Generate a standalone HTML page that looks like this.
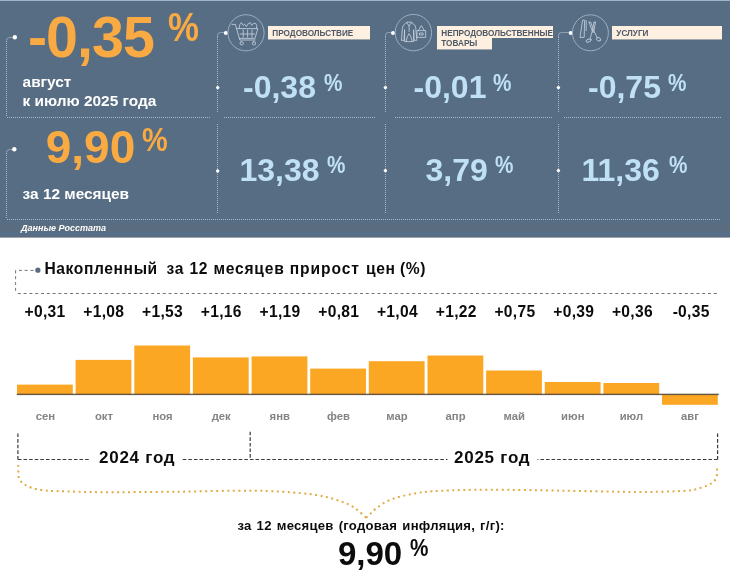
<!DOCTYPE html>
<html lang="ru">
<head>
<meta charset="utf-8">
<title>Инфляция</title>
<style>
*{margin:0;padding:0;box-sizing:border-box}
html,body{width:730px;height:574px;overflow:hidden;background:#fff}
body{font-family:"Liberation Sans",sans-serif;font-weight:bold;position:relative}
#wrap{position:absolute;left:0;top:0;width:730px;height:574px;will-change:transform;transform:translateZ(0)}
.abs{position:absolute;white-space:nowrap;line-height:1}
#top{position:absolute;left:0;top:0;width:730px;height:237px;background:#576d84}
#topedge{position:absolute;left:0;top:237px;width:730px;height:1px;background:#9da4ab}
#topstrip{position:absolute;left:0;top:0;width:730px;height:1px;background:#a3b3c8}
.or{color:#f9aa42}
.wh{color:#fff}
.lb{color:#bfe0f5}
.sx{transform-origin:0 0}
.big1{font-size:57.4px;left:28px;top:9.4px;letter-spacing:-1px}
.pc1{font-size:41px;left:167.6px;top:7px;transform:scaleX(.85)}
.big2{font-size:46px;left:45.7px;top:123.6px}
.pc2{font-size:34px;left:142px;top:122.3px;transform:scaleX(.85)}
.sub{font-size:15.4px}
.num{font-size:32px}
.pc{font-size:23px;transform:scaleX(.9)}
.tag{position:absolute;background:#fdf0e0;color:#4f5866;font-size:8.2px;line-height:9.2px;padding:2.6px 0 1.2px 4.3px;white-space:nowrap;box-shadow:0 1px 0 rgba(253,240,224,.45)}
.src{font-size:9px;font-style:italic;left:21px;top:224px}
.tw{font-size:15.6px;color:#0c0c0c;top:260.6px;letter-spacing:0.62px}
.val{font-size:15.6px;color:#0c0c0c;width:80px;text-align:center;top:303.9px;letter-spacing:0.3px;text-indent:0.3px}
.mon{font-size:11.3px;color:#848484;width:80px;text-align:center;top:411px}
.yr{font-size:17px;color:#0c0c0c;top:449.4px;letter-spacing:0.75px}
.cap{font-size:13.1px;color:#0c0c0c;left:237.4px;top:519.4px;letter-spacing:0.25px;word-spacing:1.2px}
.fin{font-size:33px;color:#0c0c0c;left:338px;top:537.1px}
.finpc{font-size:23px;color:#0c0c0c;left:409.6px;top:536.6px;transform:scaleX(.9)}
</style>
</head>
<body>
<div id="wrap">
<div id="top"></div>
<div id="topedge"></div>
<div style="position:absolute;left:0;top:224px;width:730px;height:8px;background:#5a6c80"></div>
<div style="position:absolute;left:0;top:232px;width:730px;height:4px;background:#566e88"></div>
<div style="position:absolute;left:0;top:236px;width:730px;height:1px;background:#5a6a7b"></div>
<div id="topstrip"></div>

<svg class="abs" style="left:0;top:0" width="730" height="574" viewBox="0 0 730 574">
  <!-- top panel dotted guides -->
  <g fill="none" stroke="#a9b8ca" stroke-width="1" stroke-dasharray="1 1">
    <path d="M6.5 41V117M7 117.5H211"/>
    <path d="M6.5 153V219M7 219.5H721"/>
    <path d="M217.5 37V112M217.5 124V213"/>
    <path d="M224 117.5H376"/>
    <path d="M385.5 37V112M385.5 124V213"/>
    <path d="M395 117.5H552"/>
    <path d="M558.5 37V112M558.5 124V213"/>
    <path d="M564 117.5H721"/>
  </g>
  <g fill="none" stroke="#b7c4d3" stroke-opacity=".6" stroke-width="1">
    <path d="M12.5 37.5H9.5Q6.5 37.5 6.5 40.5"/>
    <path d="M12.5 149.5H9.5Q6.5 149.5 6.5 152.5"/>
    <path d="M224 32.5H220.5Q217.5 32.5 217.5 35.5V37"/>
    <path d="M391 32.5H388.5Q385.5 32.5 385.5 35.5V37"/>
    <path d="M568.5 32.5H561.5Q558.5 32.5 558.5 35.5V37"/>
  </g>
  <g fill="#fff">
    <circle cx="14.8" cy="37.2" r="2.2"/>
    <circle cx="14.3" cy="149.2" r="2.2"/>
    <circle cx="225.8" cy="32.9" r="2"/>
    <circle cx="217.7" cy="87.6" r="1.7"/>
    <circle cx="217.7" cy="171" r="1.7"/>
    <circle cx="393" cy="33" r="2"/>
    <circle cx="385.4" cy="87.6" r="1.7"/>
    <circle cx="385.4" cy="170.6" r="1.7"/>
    <circle cx="570.6" cy="33" r="2"/>
    <circle cx="558.4" cy="87.6" r="1.7"/>
    <circle cx="558.4" cy="170.6" r="1.7"/>
  </g>
  <!-- icon circles -->
  <g fill="none" stroke="#a3b3c6" stroke-width=".9">
    <circle cx="246" cy="32.8" r="18.1"/>
    <circle cx="413.4" cy="32.6" r="18.2"/>
    <circle cx="590.4" cy="32.8" r="18"/>
  </g>
  <!-- cart icon -->
  <g fill="none" stroke="#c3d0de" stroke-width=".85" stroke-linejoin="round" stroke-linecap="round">
    <path d="M232 24.4H235.4L239.8 40H255.2"/>
    <path d="M236.7 28.6H257.8L255 38.4H239.4"/>
    <path d="M243.2 30V37.2M247.6 30V37.2M252 30V37.2M240.2 34H254.6"/>
    <rect x="240.2" y="41.8" width="3" height="3" rx=".9"/>
    <rect x="252.5" y="41.8" width="3" height="3" rx=".9"/>
    <path d="M239.2 28.4L239.8 24.6L241.4 22.6L243.2 25.4L244.6 24.2L246.4 26.6L248.4 23.4L250.4 22.8L251.6 25.2Q253.6 22.6 255.6 23.4Q257.4 24.6 256.6 28.4"/>
  </g>
  <!-- clothes icon -->
  <g fill="none" stroke="#c3d0de" stroke-width=".85" stroke-linejoin="round" stroke-linecap="round">
    <path d="M406.6 22.4L404.4 24.2Q402.6 25.6 402.4 28.4L401.4 40.4H404L404.6 29.6V41.6H413.6V29.6L414.2 40.4H416.8L415.8 28.4Q415.6 25.6 413.8 24.2L411.6 22.4Z"/>
    <path d="M406.6 22.4L409.1 26L411.6 22.4M409.1 26V31.4M406 41.6Q407 36 409.1 33.6Q411.2 36 412.2 41.6"/>
    <rect x="417.4" y="30.6" width="8.3" height="6.8"/>
    <path d="M418.5 30.6L421.3 25.6L424.4 30.6"/>
    <rect x="419.9" y="33" width="3.2" height="2"/>
  </g>
  <!-- scissors / comb icon -->
  <g fill="none" stroke="#c3d0de" stroke-width=".85" stroke-linejoin="round" stroke-linecap="round">
    <path d="M583 20.2H584.6L584.2 37.4H580.4Z"/>
    <path d="M586.2 20.4V30.6"/>
    <path d="M589 22.2L590.6 22L594.2 31.6L597 37.4"/>
    <path d="M589 22.2L592.8 32.4"/>
    <path d="M595.5 22.2L594 22L592.2 31.4L590.2 38.4"/>
    <path d="M595.5 22.2L593.6 32.2"/>
    <ellipse cx="598.6" cy="39.2" rx="2.1" ry="1.7" transform="rotate(35 598.6 39.2)"/>
    <ellipse cx="588.6" cy="40.6" rx="2.7" ry="1.4" transform="rotate(-22 588.6 40.6)"/>
  </g>

  <!-- chart -->
  <g fill="none" stroke="#70757b" stroke-width="1" stroke-dasharray="3 2.8">
    <path d="M33.5 270.4H15.6"/><path d="M15.6 270.4V293.5"/><path d="M17.8 293.5H718.5"/>
  </g>
  <circle cx="37.9" cy="270.2" r="2.6" fill="#5b6b7e"/>
  <g fill="#fba723">
    <rect x="17.0" y="384.6" width="55.8" height="9.9"/>
    <rect x="75.6" y="359.9" width="55.8" height="34.6"/>
    <rect x="134.3" y="345.5" width="55.8" height="49.0"/>
    <rect x="192.9" y="357.4" width="55.8" height="37.1"/>
    <rect x="251.6" y="356.4" width="55.8" height="38.1"/>
    <rect x="310.2" y="368.6" width="55.8" height="25.9"/>
    <rect x="368.8" y="361.2" width="55.8" height="33.3"/>
    <rect x="427.5" y="355.5" width="55.8" height="39.0"/>
    <rect x="486.1" y="370.5" width="55.8" height="24.0"/>
    <rect x="544.8" y="382.0" width="55.8" height="12.5"/>
    <rect x="603.4" y="383.0" width="55.8" height="11.5"/>
    <rect x="662.0" y="394.5" width="55.8" height="10.3"/>
  </g>
  <rect x="16.8" y="393.7" width="702" height="1.4" fill="#4a3f34" fill-opacity=".86"/>
  <!-- brackets -->
  <g fill="none" stroke="#3a3a3a" stroke-width="1.2" stroke-dasharray="3.6 2">
    <path d="M17.9 459.5V431.7"/><path d="M17.9 459.5H89.5"/>
    <path d="M182.7 459.5H447.5"/>
    <path d="M717.6 459.5H537.5"/><path d="M717.6 459.5V431.7"/>
    <path d="M250.2 431.7V459"/>
  </g>
  <path d="M18.2 465C18.2 466.2 18.2 469.7 18.4 472C18.6 474.3 18.3 477.0 19.2 479C20.1 481.0 21.6 482.3 23.7 483.8C25.8 485.3 28.5 486.8 31.9 487.9C35.3 489.0 39.5 489.8 44.2 490.3C48.9 490.9 49.9 490.9 60 491.2C70.1 491.5 84.8 492.1 104.6 492.2C124.4 492.3 153.9 491.9 178.6 491.7C203.3 491.4 232.1 490.4 252.6 490.7C273.1 490.9 289.6 492.1 301.9 493.2C314.2 494.3 320.0 495.7 326.5 497.1C333.0 498.5 336.9 500.0 341 501.4C345.1 502.8 348.4 504.2 351.2 505.7C354.0 507.2 355.6 508.6 357.6 510.2C359.7 511.8 362.1 514.1 363.5 515.4C364.9 516.7 365.7 517.4 366.1 517.8" fill="none" stroke="#e0ac48" stroke-width="2" stroke-dasharray="2 3.5"/>
  <path d="M366.1 517.8C366.6 517.4 367.4 516.7 369 515.2C370.6 513.7 372.3 511.2 375.9 508.6C379.5 506.0 384.1 502.1 390.7 499.6C397.3 497.1 407.1 494.8 415.3 493.4C423.5 491.9 427.7 491.5 440 490.9C452.3 490.3 468.8 489.7 489.3 489.7C509.8 489.7 539.5 490.3 563 490.7C586.5 491.1 613.5 491.7 630 491.9C646.5 492.1 652.4 491.9 662 491.7C671.6 491.5 681.4 491.1 687.5 490.6C693.6 490.1 695.1 489.5 698.5 488.6C701.9 487.7 705.5 486.2 708 485.1C710.5 484.0 712.2 483.1 713.6 481.7C715.0 480.3 716.0 478.8 716.6 476.9C717.2 474.9 717.0 472.0 717.1 470C717.2 468.0 717.1 465.8 717.1 465" fill="none" stroke="#e0ac48" stroke-width="2" stroke-dasharray="2 3.5"/>
</svg>

<div class="abs or big1">-0,35</div><div class="abs or sx pc1">%</div>
<div class="abs wh sub" style="left:22.6px;top:73.6px">август</div>
<div class="abs wh sub" style="left:22.6px;top:92.7px">к июлю 2025 года</div>
<div class="abs or big2">9,90</div><div class="abs or sx pc2">%</div>
<div class="abs wh sub" style="left:22.6px;top:186.3px">за 12 месяцев</div>
<div class="abs wh src">Данные Росстата</div>

<div class="tag" style="left:268px;top:26px;width:102px">ПРОДОВОЛЬСТВИЕ</div>
<div class="tag" style="left:437px;top:26px;width:115.5px;height:12px;box-shadow:none">НЕПРОДОВОЛЬСТВЕННЫЕ</div>
<div class="tag" style="left:437px;top:38px;width:54.5px;padding-top:.9px;height:10.6px">ТОВАРЫ</div>
<div class="tag" style="left:612px;top:26px;width:110px">УСЛУГИ</div>

<div class="abs lb num" style="left:243px;top:71px">-0,38</div><div class="abs lb sx pc" style="left:324px;top:72.3px">%</div>
<div class="abs lb num" style="left:413.5px;top:71px">-0,01</div><div class="abs lb sx pc" style="left:493px;top:72.3px">%</div>
<div class="abs lb num" style="left:588px;top:71px">-0,75</div><div class="abs lb sx pc" style="left:667.5px;top:72.3px">%</div>
<div class="abs lb num" style="left:239.5px;top:153.6px">13,38</div><div class="abs lb sx pc" style="left:326.5px;top:154px">%</div>
<div class="abs lb num" style="left:425.5px;top:153.6px">3,79</div><div class="abs lb sx pc" style="left:494.5px;top:154px">%</div>
<div class="abs lb num" style="left:581.5px;top:153.6px">11,36</div><div class="abs lb sx pc" style="left:668.6px;top:154px">%</div>

<div class="abs tw" style="left:44.4px">Накопленный</div>
<div class="abs tw" style="left:166.6px">за</div>
<div class="abs tw" style="left:189.4px">12</div>
<div class="abs tw" style="left:213.4px;letter-spacing:.8px">месяцев</div>
<div class="abs tw" style="left:289.8px;letter-spacing:.9px">прирост</div>
<div class="abs tw" style="left:366px">цен</div>
<div class="abs tw" style="left:400px">(%)</div>

<div class="abs val" style="left:4.9px">+0,31</div>
<div class="abs val" style="left:63.6px">+1,08</div>
<div class="abs val" style="left:122.4px">+1,53</div>
<div class="abs val" style="left:181.1px">+1,16</div>
<div class="abs val" style="left:239.9px">+1,19</div>
<div class="abs val" style="left:298.6px">+0,81</div>
<div class="abs val" style="left:357.3px">+1,04</div>
<div class="abs val" style="left:416.1px">+1,22</div>
<div class="abs val" style="left:474.8px">+0,75</div>
<div class="abs val" style="left:533.6px">+0,39</div>
<div class="abs val" style="left:592.3px">+0,36</div>
<div class="abs val" style="left:651.0px">-0,35</div>

<div class="abs mon" style="left:5.4px">сен</div>
<div class="abs mon" style="left:64.0px">окт</div>
<div class="abs mon" style="left:122.6px">ноя</div>
<div class="abs mon" style="left:181.2px">дек</div>
<div class="abs mon" style="left:239.8px">янв</div>
<div class="abs mon" style="left:298.4px">фев</div>
<div class="abs mon" style="left:357.0px">мар</div>
<div class="abs mon" style="left:415.6px">апр</div>
<div class="abs mon" style="left:474.2px">май</div>
<div class="abs mon" style="left:532.8px">июн</div>
<div class="abs mon" style="left:591.4px">июл</div>
<div class="abs mon" style="left:650.0px">авг</div>

<div class="abs yr" style="left:99px">2024 год</div>
<div class="abs yr" style="left:454px">2025 год</div>
<div class="abs cap">за 12 месяцев (годовая инфляция, г/г):</div>
<div class="abs fin">9,90</div><div class="abs sx finpc">%</div>
</div>
</body>
</html>
